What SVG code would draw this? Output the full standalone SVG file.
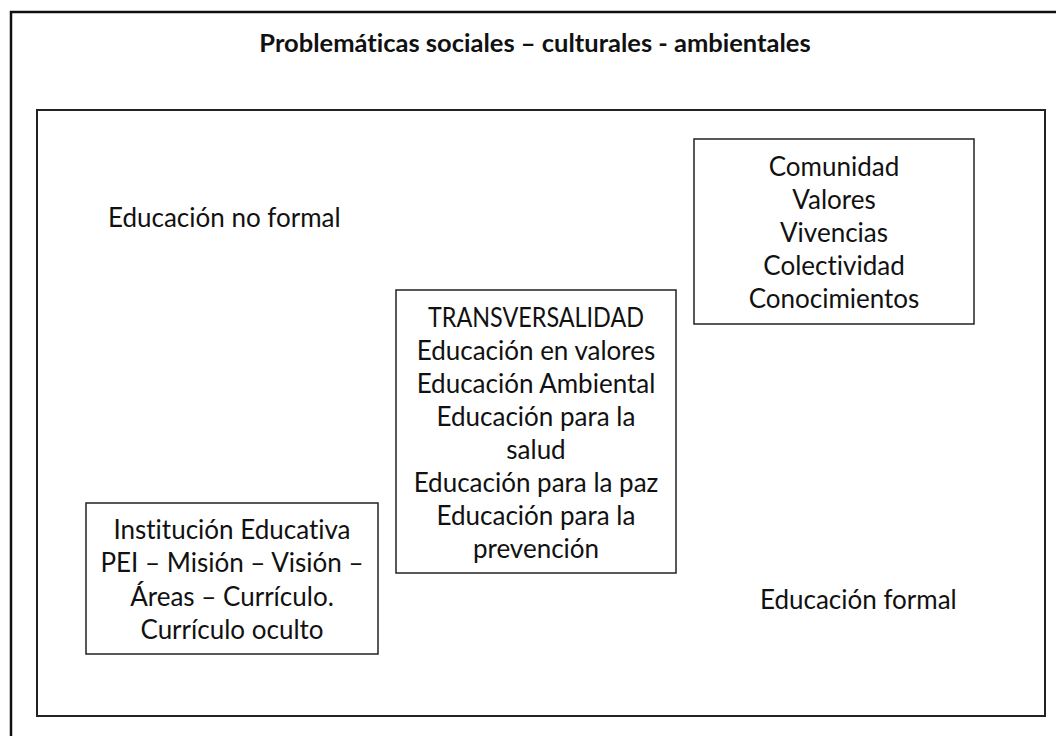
<svg xmlns="http://www.w3.org/2000/svg" width="1056" height="736" viewBox="0 0 1056 736">
<style>
.t{font-family:Lato,"Liberation Sans",sans-serif;font-size:26px;fill:#111;text-anchor:middle;font-variant-ligatures:none}
.l{font-family:Lato,"Liberation Sans",sans-serif;font-size:26px;fill:#111;font-variant-ligatures:none}
.b{fill:#fff;stroke:#222;stroke-width:1.5}
</style>
<rect width="1056" height="736" fill="#fff"/>
<g id="frame-outer"><rect x="11" y="12" width="1060" height="740" fill="none" stroke="#111" stroke-width="2.5"/></g>
<g id="title"><text x="535" y="52" style="font-family:Lato,'Liberation Sans',sans-serif;font-size:25.5px;font-weight:bold;fill:#111;text-anchor:middle;font-variant-ligatures:none">Problemáticas sociales – culturales - ambientales</text></g>
<g id="frame-inner"><rect x="37" y="110" width="1008" height="606" fill="none" stroke="#222" stroke-width="2"/></g>
<g id="no-formal"><text class="l" x="108" y="227">Educación no formal</text></g>
<g id="formal"><text class="l" x="760" y="609">Educación formal</text></g>
<g id="comunidad">
<rect class="b" x="694" y="139" width="280" height="185"/>
<text class="t" x="834" y="176">Comunidad</text>
<text class="t" x="834" y="209">Valores</text>
<text class="t" x="834" y="242">Vivencias</text>
<text class="t" x="834" y="275">Colectividad</text>
<text class="t" x="834" y="308">Conocimientos</text>
</g>
<g id="transversalidad">
<rect class="b" x="396" y="290" width="280" height="283"/>
<text class="t" x="536" y="327" textLength="216" lengthAdjust="spacingAndGlyphs">TRANSVERSALIDAD</text>
<text class="t" x="536" y="360">Educación en valores</text>
<text class="t" x="536" y="393">Educación Ambiental</text>
<text class="t" x="536" y="426">Educación para la</text>
<text class="t" x="536" y="459">salud</text>
<text class="t" x="536" y="492">Educación para la paz</text>
<text class="t" x="536" y="525">Educación para la</text>
<text class="t" x="536" y="558">prevención</text>
</g>
<g id="institucion">
<rect class="b" x="86" y="503" width="292" height="151"/>
<text class="t" x="232" y="539">Institución Educativa</text>
<text class="t" x="232" y="572">PEI – Misión – Visión –</text>
<text class="t" x="232" y="606">Áreas – Currículo.</text>
<text class="t" x="232" y="639">Currículo oculto</text>
</g>
<g id="connectors"></g>
</svg>
